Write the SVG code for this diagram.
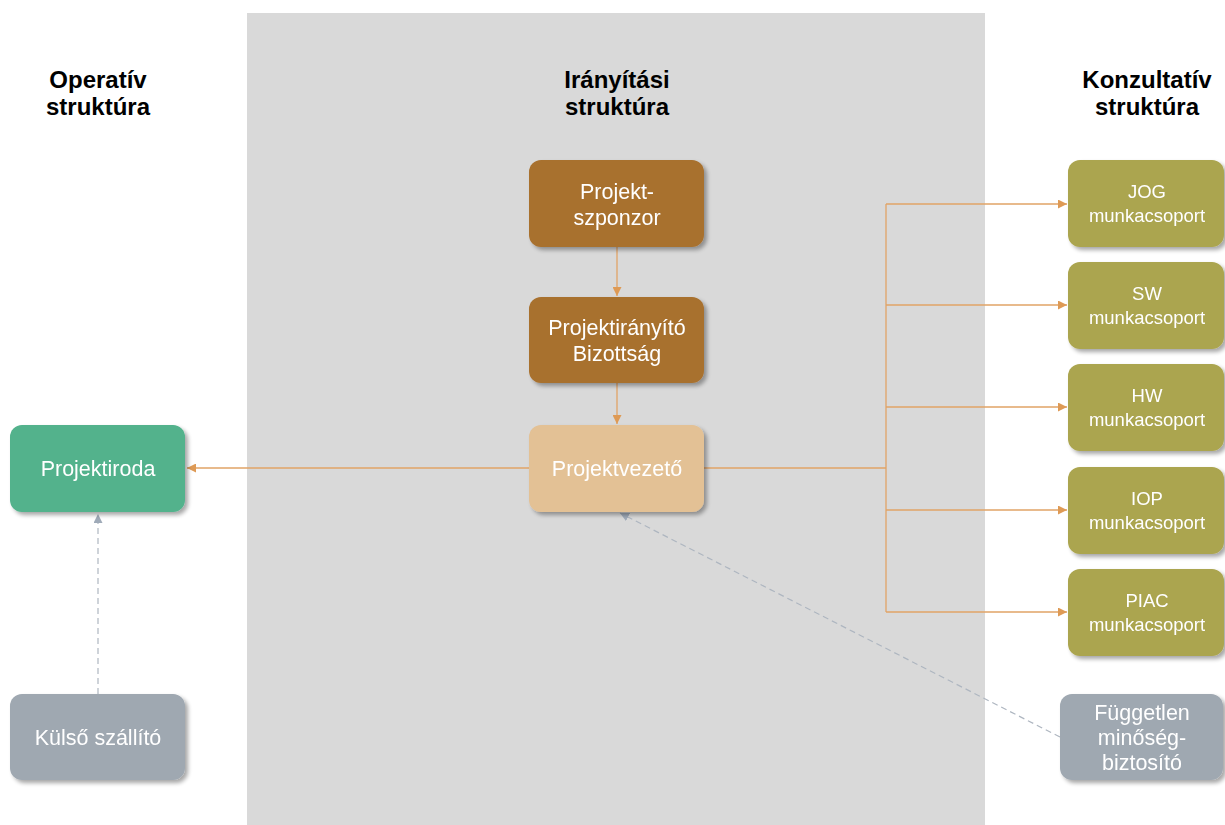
<svg xmlns="http://www.w3.org/2000/svg" width="1225" height="825" viewBox="0 0 1225 825">
<defs>
<filter id="sh" x="-10%" y="-10%" width="130%" height="140%">
<feGaussianBlur in="SourceAlpha" stdDeviation="2"/>
<feOffset dx="3" dy="3"/>
<feComponentTransfer><feFuncA type="linear" slope="0.35"/></feComponentTransfer>
<feMerge><feMergeNode/><feMergeNode in="SourceGraphic"/></feMerge>
</filter>
<marker id="ao" viewBox="0 0 10 10" refX="10" refY="5" markerWidth="9" markerHeight="9" markerUnits="userSpaceOnUse" orient="auto"><path d="M0,0 L10,5 L0,10 z" fill="#DE9A55"/></marker>
<marker id="ag" viewBox="0 0 10 10" refX="10" refY="5" markerWidth="9" markerHeight="9" markerUnits="userSpaceOnUse" orient="auto"><path d="M0,0 L10,5 L0,10 z" fill="#9FAAB8"/></marker>
</defs>
<style>
.hd{font-family:"Liberation Sans",Arial,sans-serif;font-weight:bold;font-size:24px;fill:#000;text-anchor:middle}
.t{font-family:"Liberation Sans",Arial,sans-serif;font-size:21.5px;fill:#fff;text-anchor:middle}
.s{font-family:"Liberation Sans",Arial,sans-serif;font-size:18.5px;fill:#fff;text-anchor:middle}
.o{stroke:#E0A366;stroke-width:1.3;fill:none}
.g{stroke:#AEB6C0;stroke-width:1.2;fill:none;stroke-dasharray:6,4}
</style>
<rect x="0" y="0" width="1225" height="825" fill="#fff"/>
<rect x="247" y="13" width="738" height="812" fill="#D9D9D9"/>
<g id="headers">
<text class="hd" x="98" y="88">Operatív</text><text class="hd" x="98" y="115">struktúra</text>
<text class="hd" x="617" y="88">Irányítási</text><text class="hd" x="617" y="115">struktúra</text>
<text class="hd" x="1147" y="88">Konzultatív</text><text class="hd" x="1147" y="115">struktúra</text>
</g>
<g id="connectors">
<line class="o" x1="617" y1="247" x2="617" y2="296" marker-end="url(#ao)"/>
<line class="o" x1="617" y1="383" x2="617" y2="424" marker-end="url(#ao)"/>
<line class="o" x1="529" y1="468" x2="187" y2="468" marker-end="url(#ao)"/>
<polyline class="o" points="704,468 886,468"/>
<line class="o" x1="886" y1="204" x2="886" y2="612"/>
<line class="o" x1="886" y1="204" x2="1067" y2="204" marker-end="url(#ao)"/>
<line class="o" x1="886" y1="305" x2="1067" y2="305" marker-end="url(#ao)"/>
<line class="o" x1="886" y1="407" x2="1067" y2="407" marker-end="url(#ao)"/>
<line class="o" x1="886" y1="510" x2="1067" y2="510" marker-end="url(#ao)"/>
<line class="o" x1="886" y1="612" x2="1067" y2="612" marker-end="url(#ao)"/>
<line class="g" x1="98" y1="694" x2="98" y2="514" marker-end="url(#ag)"/>
<line class="g" x1="1060" y1="737" x2="620" y2="513" marker-end="url(#ag)"/>
</g>
<g id="n-szponzor" filter="url(#sh)"><rect x="529" y="160" width="175" height="87" rx="12" fill="#A8712F"/><text class="t" x="617" y="199">Projekt-</text><text class="t" x="617" y="225">szponzor</text></g>
<g id="n-pib" filter="url(#sh)"><rect x="529" y="297" width="175" height="86" rx="12" fill="#A8712F"/><text class="t" x="617" y="335">Projektirányító</text><text class="t" x="617" y="361">Bizottság</text></g>
<g id="n-pv" filter="url(#sh)"><rect x="529" y="425" width="175" height="87" rx="12" fill="#E3C195"/><text class="t" x="617" y="476">Projektvezető</text></g>
<g id="n-iroda" filter="url(#sh)"><rect x="10" y="425" width="175" height="87" rx="12" fill="#52B28C"/><text class="t" x="98" y="476">Projektiroda</text></g>
<g id="n-kulso" filter="url(#sh)"><rect x="10" y="694" width="175" height="86" rx="12" fill="#9FA8B1"/><text class="t" x="98" y="745">Külső szállító</text></g>
<g id="n-jog" filter="url(#sh)"><rect x="1068" y="160" width="156" height="87" rx="12" fill="#ABA550"/><text class="s" x="1147" y="198">JOG</text><text class="s" x="1147" y="222">munkacsoport</text></g>
<g id="n-sw" filter="url(#sh)"><rect x="1068" y="262" width="156" height="87" rx="12" fill="#ABA550"/><text class="s" x="1147" y="300">SW</text><text class="s" x="1147" y="324">munkacsoport</text></g>
<g id="n-hw" filter="url(#sh)"><rect x="1068" y="364" width="156" height="87" rx="12" fill="#ABA550"/><text class="s" x="1147" y="402">HW</text><text class="s" x="1147" y="426">munkacsoport</text></g>
<g id="n-iop" filter="url(#sh)"><rect x="1068" y="467" width="156" height="87" rx="12" fill="#ABA550"/><text class="s" x="1147" y="505">IOP</text><text class="s" x="1147" y="529">munkacsoport</text></g>
<g id="n-piac" filter="url(#sh)"><rect x="1068" y="569" width="156" height="87" rx="12" fill="#ABA550"/><text class="s" x="1147" y="607">PIAC</text><text class="s" x="1147" y="631">munkacsoport</text></g>
<g id="n-fmb" filter="url(#sh)"><rect x="1060" y="694" width="163" height="86" rx="12" fill="#9FA8B1"/><text class="t" x="1142" y="720">Független</text><text class="t" x="1142" y="745">minőség-</text><text class="t" x="1142" y="770">biztosító</text></g>
</svg>
